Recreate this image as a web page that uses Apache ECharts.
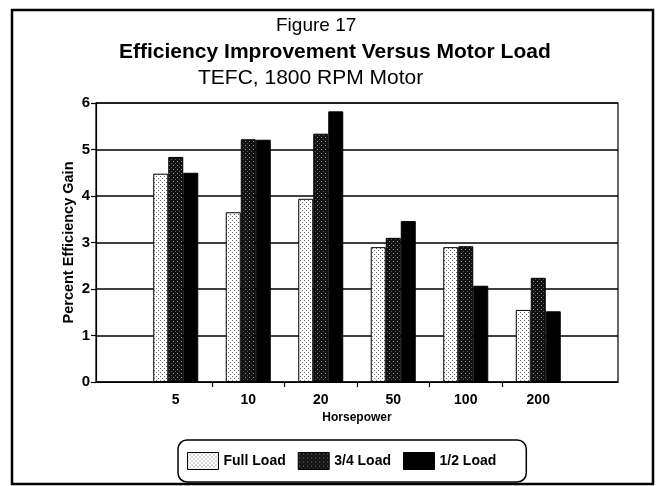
<!DOCTYPE html>
<html>
<head>
<meta charset="utf-8">
<script src="https://cdn.jsdelivr.net/npm/echarts@6/dist/echarts.min.js"></script>
<style>
  html, body { margin: 0; padding: 0; background: #fff; }
  #chart { width: 668px; height: 486px; }
</style>
</head>
<body>
<div id="chart"></div>
<script>
// data
const horsepower = ['5', '10', '20', '50', '100', '200']
const fullLoad = [4.48, 3.65, 3.94, 2.9, 2.9, 1.55]
const threeQuarterLoad = [4.84, 5.22, 5.34, 3.1, 2.92, 2.24]
const halfLoad = [4.5, 5.21, 5.82, 3.46, 2.07, 1.52]
const seriesNames = ['Full Load', '3/4 Load', '1/2 Load']

const FONT = '"Liberation Sans Narrow", "Liberation Sans", Arial, sans-serif'

// small stipple tiles to mimic the printed hatch fills
function makeTile(bg, dots) {
  const c = document.createElement('canvas')
  c.width = 4
  c.height = 4
  const ctx = c.getContext('2d')
  ctx.fillStyle = bg
  ctx.fillRect(0, 0, 4, 4)
  dots.forEach(d => {
    ctx.fillStyle = d[2]
    ctx.fillRect(d[0], d[1], 1, 1)
  })
  return { image: c, repeat: 'repeat' }
}

const fills = [
  makeTile('#ffffff', [[0, 0, '#6a6a6a'], [2, 2, '#6a6a6a']]),
  makeTile('#111111', [[1, 1, '#9a9a9a'], [3, 3, '#555555']]),
  '#000000',
]

// category i sits at x = i + 1 on the base axis
const toPoints = arr => arr.map((v, i) => [i + 1, v])
const allSeries = [fullLoad, threeQuarterLoad, halfLoad]

const chart = echarts.init(document.getElementById('chart'), null, { renderer: 'canvas' })

chart.setOption({
  backgroundColor: '#fff',
  animation: false,
  title: [
    {
      text: 'Figure 17',
      left: 271, top: 11,
      textStyle: { fontFamily: 'Liberation Sans, Arial', fontSize: 19, fontWeight: 'normal', color: '#000' },
    },
    {
      text: 'Efficiency Improvement Versus Motor Load',
      left: 114, top: 37,
      textStyle: { fontFamily: 'Liberation Sans, Arial', fontSize: 21, fontWeight: 'bold', color: '#000' },
    },
    {
      text: 'TEFC, 1800 RPM Motor',
      left: 193, top: 63,
      textStyle: { fontFamily: 'Liberation Sans, Arial', fontSize: 21, fontWeight: 'normal', color: '#000' },
    },
  ],
  graphic: [
    {
      type: 'rect',
      shape: { x: 12, y: 10, width: 641, height: 474 },
      style: { fill: 'none', stroke: '#000', lineWidth: 2.5 },
      silent: true,
    },
  ],
  legend: {
    data: seriesNames,
    left: 178, top: 440,
    padding: [12, 30, 12, 9],
    itemWidth: 31, itemHeight: 17, itemGap: 12,
    borderColor: '#000', borderWidth: 1.5, borderRadius: 9,
    icon: 'rect',
    itemStyle: { borderColor: '#000', borderWidth: 1 },
    textStyle: { fontFamily: FONT, fontSize: 14, fontWeight: 'bold', color: '#000' },
  },
  grid: {
    left: 96, right: 50, top: 103, bottom: 104,
    show: true, borderColor: '#000', borderWidth: 1.2,
  },
  xAxis: {
    type: 'value',
    min: -0.1, max: 7.1,
    name: 'Horsepower',
    nameLocation: 'middle',
    nameGap: 30,
    nameTextStyle: { fontFamily: FONT, fontSize: 12, fontWeight: 'bold', color: '#000' },
    axisLine: { lineStyle: { color: '#000', width: 1.2 } },
    splitLine: { show: false },
    axisTick: {
      customValues: [1.5, 2.5, 3.5, 4.5, 5.5],
      length: 5,
      lineStyle: { color: '#000', width: 1.2 },
    },
    axisLabel: {
      customValues: [1, 2, 3, 4, 5, 6],
      margin: 11,
      formatter: v => horsepower[Math.round(v) - 1] || '',
      fontFamily: FONT, fontSize: 14, fontWeight: 'bold', color: '#000',
    },
  },
  yAxis: {
    type: 'value',
    min: 0, max: 6, interval: 1,
    name: 'Percent Efficiency Gain',
    nameLocation: 'middle',
    nameRotate: 90,
    nameGap: 20,
    nameMoveOverlap: false,
    nameTextStyle: { fontFamily: FONT, fontSize: 14.5, fontWeight: 'bold', color: '#000' },
    axisLine: { show: true, onZero: false, lineStyle: { color: '#000', width: 1.2 } },
    axisTick: { show: true, length: 5, lineStyle: { color: '#000', width: 1.2 } },
    axisLabel: { margin: 6, fontFamily: FONT, fontSize: 15, fontWeight: 'bold', color: '#000' },
    splitLine: { lineStyle: { color: '#000', width: 1.5 } },
  },
  series: allSeries.map((arr, k) => ({
    name: seriesNames[k],
    type: 'bar',
    data: toPoints(arr),
    barWidth: 15,
    barGap: '0%',
    itemStyle: { color: fills[k], borderColor: '#000', borderWidth: 1 },
  })),
})
</script>
</body>
</html>
